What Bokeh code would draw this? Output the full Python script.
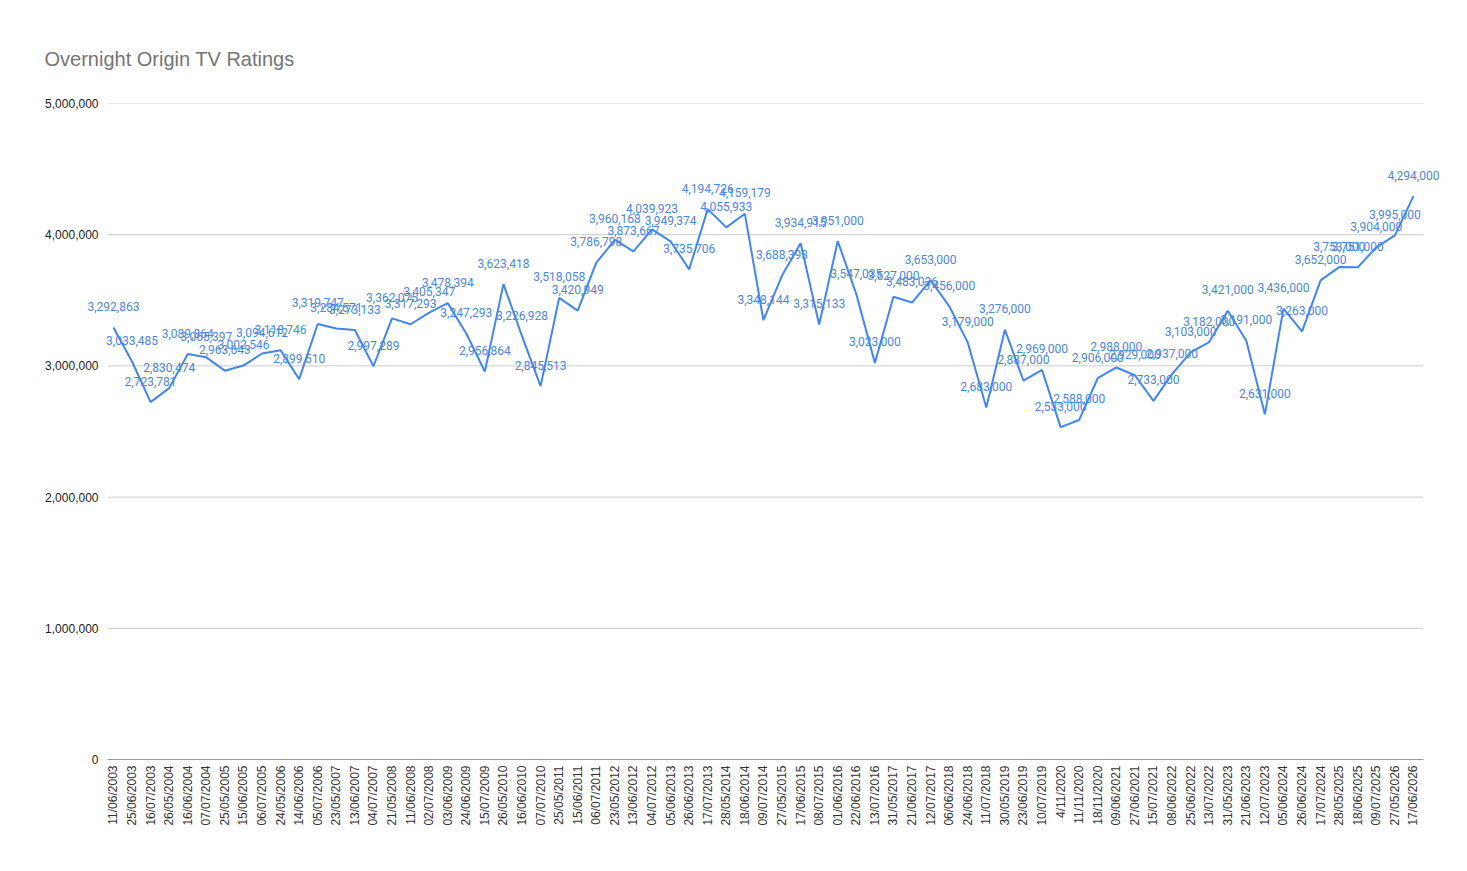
import math
from bokeh.plotting import figure
from bokeh.models import (ColumnDataSource, FixedTicker, NumeralTickFormatter,
                          Range1d, LabelSet, Title)
from bokeh.core.properties import value
from bokeh.embed import file_html
from bokeh.resources import INLINE

dates = [
    "11/06/2003", "25/06/2003", "16/07/2003",
    "26/05/2004", "16/06/2004", "07/07/2004",
    "25/05/2005", "15/06/2005", "06/07/2005",
    "24/05/2006", "14/06/2006", "05/07/2006",
    "23/05/2007", "13/06/2007", "04/07/2007",
    "21/05/2008", "11/06/2008", "02/07/2008",
    "03/06/2009", "24/06/2009", "15/07/2009",
    "26/05/2010", "16/06/2010", "07/07/2010",
    "25/05/2011", "15/06/2011", "06/07/2011",
    "23/05/2012", "13/06/2012", "04/07/2012",
    "05/06/2013", "26/06/2013", "17/07/2013",
    "28/05/2014", "18/06/2014", "09/07/2014",
    "27/05/2015", "17/06/2015", "08/07/2015",
    "01/06/2016", "22/06/2016", "13/07/2016",
    "31/05/2017", "21/06/2017", "12/07/2017",
    "06/06/2018", "24/06/2018", "11/07/2018",
    "30/05/2019", "23/06/2019", "10/07/2019",
    "4/11/2020", "11/11/2020", "18/11/2020",
    "09/06/2021", "27/06/2021", "15/07/2021",
    "08/06/2022", "25/06/2022", "13/07/2022",
    "31/05/2023", "21/06/2023", "12/07/2023",
    "05/06/2024", "26/06/2024", "17/07/2024",
    "28/05/2025", "18/06/2025", "09/07/2025",
    "27/05/2026", "17/06/2026",
]

ratings = [
    3292863, 3033485, 2723781,
    2830474, 3089864, 3065397,
    2963643, 3002546, 3094612,
    3118746, 2899510, 3319747,
    3284571, 3273133, 2997289,
    3362075, 3317293, 3405347,
    3478394, 3247293, 2956864,
    3623418, 3226928, 2845513,
    3518058, 3420949, 3786798,
    3960168, 3873667, 4039923,
    3949374, 3735706, 4194726,
    4055933, 4159179, 3348144,
    3688393, 3934915, 3315133,
    3951000, 3547035, 3023000,
    3527000, 3483036, 3653000,
    3456000, 3179000, 2683000,
    3276000, 2887000, 2969000,
    2533000, 2588000, 2906000,
    2988000, 2929000, 2733000,
    2937000, 3103000, 3182000,
    3421000, 3191000, 2631000,
    3436000, 3263000, 3652000,
    3753000, 3751000, 3904000,
    3995000, 4294000,
]

y_ticks = [0, 1000000, 2000000, 3000000, 4000000, 5000000]
title_text = "Overnight Origin TV Ratings"

n = len(dates)
idx = list(range(n))
src = ColumnDataSource(data=dict(x=idx, y=ratings,
                                 lab=[f"{v:,}" for v in ratings]))

# layout (pixels)
W, H = 1458, 850
TOP, FH = 103, 656
FL, FR = 84, 1446            # frame edges on canvas
PL, PR = 107, 1423           # visible plot-area edges (grid extent)
pad_l, pad_r = 0.32, 0.54    # category padding inside plot area
s = (PR - PL) / (n - 1 + pad_l + pad_r)
x0_plot, x1_plot = -pad_l, n - 1 + pad_r
x_start = x0_plot - (PL - FL) / s
x_end = x1_plot + (FR - PR) / s

p = figure(width=W, height=H, output_backend="svg", toolbar_location=None,
           x_range=Range1d(x_start, x_end),
           y_range=Range1d(0, 5000000),
           min_border_left=FL, min_border_right=W - FR,
           min_border_top=TOP, min_border_bottom=H - TOP - FH)

p.title = Title(text=title_text, text_font="Liberation Sans",
                text_font_size="20px", text_color="#757575",
                text_font_style="normal", align="left", offset=44 - FL,
                standoff=68)

p.background_fill_color = "white"
p.border_fill_color = "white"
p.outline_line_color = None

# horizontal gridlines limited to the plot area, and the baseline axis line
grid_src = ColumnDataSource(data=dict(y=y_ticks[1:],
                                      x0=[x0_plot] * (len(y_ticks) - 1),
                                      x1=[x1_plot] * (len(y_ticks) - 1)))
p.segment(x0="x0", x1="x1", y0="y", y1="y", source=grid_src,
          line_color="#cccccc", line_width=1, level="underlay")
p.segment(x0=[x0_plot], x1=[x1_plot], y0=[y_ticks[0]], y1=[y_ticks[0]],
          line_color="#333333", line_width=1)

p.line("x", "y", source=src, line_color="#4285f4", line_width=2)

p.add_layout(LabelSet(x="x", y="y", text="lab", source=src,
                      text_align="center", text_baseline="middle",
                      y_offset=21, text_font=value("Roboto"),
                      text_font_size=value("12px"), text_color="#4a86e8"))

# axes
p.xaxis.ticker = FixedTicker(ticks=idx)
p.xaxis.major_label_overrides = {i: d for i, d in zip(idx, dates)}
p.xaxis.major_label_orientation = math.pi / 2
p.xaxis.major_label_text_font = "Liberation Sans"
p.xaxis.major_label_text_font_size = "12px"
p.xaxis.major_label_text_color = "#333333"
p.xaxis.axis_line_color = None
p.xaxis.major_tick_line_color = None
p.xaxis.minor_tick_line_color = None
p.xaxis.major_tick_out = 0
p.xaxis.major_tick_in = 0
p.xaxis.major_label_standoff = 6

p.yaxis.ticker = FixedTicker(ticks=y_ticks)
p.yaxis.formatter = NumeralTickFormatter(format="0,0")
p.yaxis.major_label_text_font = "Liberation Sans"
p.yaxis.major_label_text_font_size = "12px"
p.yaxis.major_label_text_color = "#222222"
p.yaxis.axis_line_color = None
p.yaxis.major_tick_line_color = None
p.yaxis.minor_tick_line_color = None
p.yaxis.major_tick_out = 0
p.yaxis.major_tick_in = 0
p.yaxis.major_label_standoff = FL - 98

p.xgrid.grid_line_color = None
p.ygrid.grid_line_color = None

open("out.html", "w").write(file_html(p, INLINE))
